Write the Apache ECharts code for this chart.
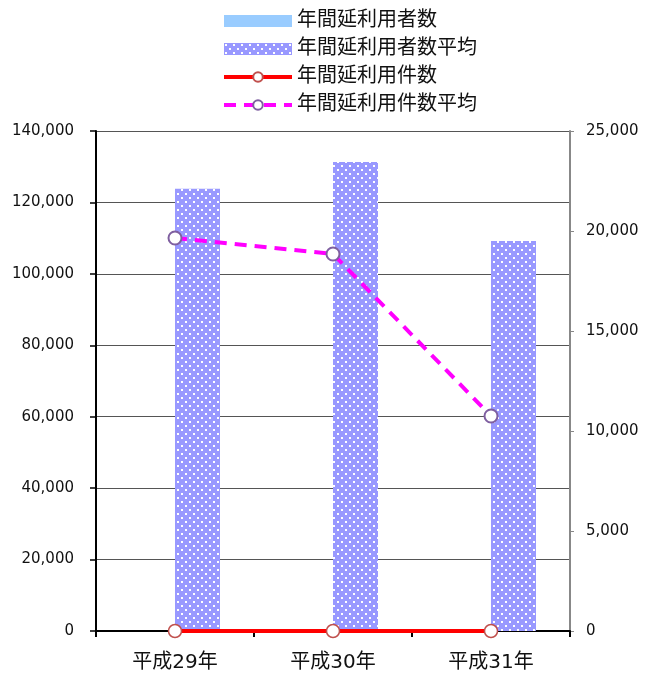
<!DOCTYPE html>
<html>
<head>
<meta charset="utf-8">
<script src="https://cdn.jsdelivr.net/npm/echarts@6/dist/echarts.min.js"></script>
<style>html,body{margin:0;padding:0;background:#fff}#c{width:652px;height:678px}</style>
</head>
<body>
<div id="c"></div>
<script>
var categories = ['平成29年', '平成30年', '平成31年'];
var usersTotal = [0, 0, 0];
var usersAvg = [123800, 131300, 109200];
var casesTotal = [0, 0, 0];
var casesAvg = [19650, 18850, 10750];
var leftTicks = {min: 0, max: 140000, interval: 20000};
var rightTicks = {min: 0, max: 25000, interval: 5000};

function makePattern() {
  var c = document.createElement('canvas');
  c.width = 8; c.height = 8;
  var g = c.getContext('2d');
  g.fillStyle = '#9999ff';
  g.fillRect(0, 0, 8, 8);
  g.fillStyle = '#ffffff';
  g.fillRect(1, 1, 2, 2);
  g.fillRect(5, 5, 2, 2);
  return c;
}
var pat = {image: makePattern(), repeat: 'repeat'};
var fmt = function (v) { return Number(v).toLocaleString('en-US'); };
var font = '"DejaVu Sans", "Noto Sans CJK JP", sans-serif';

var chart = echarts.init(document.getElementById('c'), null, {renderer: 'canvas'});
chart.setOption({
  animation: false,
  textStyle: {fontFamily: font},
  legend: {
    orient: 'vertical', left: 217, top: 6, itemGap: 8, itemWidth: 68, itemHeight: 12,
    textStyle: {fontSize: 20, color: '#111', fontFamily: font},
    data: [
      {name: '年間延利用者数', icon: 'rect', itemStyle: {color: '#99ccff'}},
      {name: '年間延利用者数平均', icon: 'rect', itemStyle: {color: pat}},
      {name: '年間延利用件数', lineStyle: {width: 4}},
      {name: '年間延利用件数平均', lineStyle: {width: 4}}
    ]
  },
  grid: {left: 96, right: 82, top: 131, bottom: 47},
  xAxis: {
    type: 'category', data: categories, boundaryGap: true,
    axisLine: {lineStyle: {color: '#000', width: 2}},
    axisTick: {show: true, length: 6, lineStyle: {color: '#000', width: 2}},
    axisLabel: {fontSize: 20, color: '#111', margin: 22, fontFamily: font}
  },
  yAxis: [{
    type: 'value', min: leftTicks.min, max: leftTicks.max, interval: leftTicks.interval,
    axisLine: {show: true, lineStyle: {color: '#000', width: 2}},
    axisTick: {show: true, length: 6, lineStyle: {color: '#000', width: 1.5}},
    axisLabel: {fontSize: 15, color: '#111', margin: 22, formatter: fmt, fontFamily: font},
    splitLine: {lineStyle: {color: '#555', width: 1}}
  }, {
    type: 'value', min: rightTicks.min, max: rightTicks.max, interval: rightTicks.interval,
    position: 'right',
    axisLine: {show: true, lineStyle: {color: '#888', width: 2}},
    axisTick: {show: true, length: 4, lineStyle: {color: '#888', width: 1}},
    axisLabel: {fontSize: 15, color: '#111', margin: 16, formatter: fmt, fontFamily: font},
    splitLine: {show: false}
  }],
  series: [{
    name: '年間延利用者数', type: 'bar', yAxisIndex: 0, data: usersTotal,
    barWidth: 45, barGap: '0%', itemStyle: {color: '#99ccff'}
  }, {
    name: '年間延利用者数平均', type: 'bar', yAxisIndex: 0, data: usersAvg,
    barWidth: 45, barGap: '0%', itemStyle: {color: pat}
  }, {
    name: '年間延利用件数', type: 'line', yAxisIndex: 1, data: casesTotal,
    symbol: 'circle', symbolSize: 13, z: 5,
    lineStyle: {color: '#ff0000', width: 4},
    itemStyle: {color: '#ffffff', borderColor: '#c0504d', borderWidth: 1.5}
  }, {
    name: '年間延利用件数平均', type: 'line', yAxisIndex: 1, data: casesAvg,
    symbol: 'circle', symbolSize: 13, z: 6,
    lineStyle: {color: '#ff00ff', width: 4, type: [12, 8]},
    itemStyle: {color: '#ffffff', borderColor: '#7f5fa0', borderWidth: 2}
  }]
});
</script>
</body>
</html>
